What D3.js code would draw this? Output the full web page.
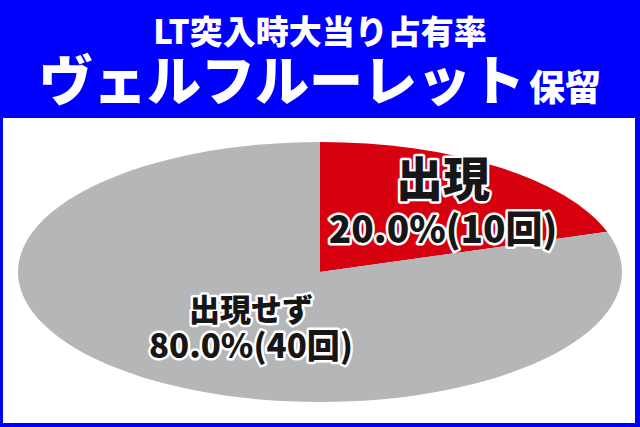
<!DOCTYPE html>
<html><head><meta charset="utf-8">
<script src="https://cdn.jsdelivr.net/npm/d3@7"></script>
<style>
html,body{margin:0;padding:0;background:#fff;}
svg{display:block;font-family:"Noto Sans CJK JP","Noto Sans",sans-serif;}
</style></head>
<body>
<svg id="c" width="640" height="427"></svg>
<script>
const titleLine1 = "LT突入時大当り占有率";
const titleMain = "ヴェルフルーレット";
const titleSuffix = "保留";
const categories = ["出現", "出現せず"];
const counts = [10, 40];
const sliceColors = ["#d7000f", "#b5b6b8"];

const svg = d3.select("#c");
const W = 640, H = 427;
svg.append("rect").attr("width", W).attr("height", H).attr("fill", "#0000ff");
svg.append("rect").attr("x", 3).attr("y", 118).attr("width", 632).attr("height", 305).attr("fill", "#fff");

// Title
svg.append("text").attr("x", 320).attr("y", 44).attr("text-anchor", "middle")
  .attr("fill", "#fff").attr("font-size", 33).attr("font-weight", 900).text(titleLine1);
const t2 = svg.append("text").attr("x", 320).attr("y", 101).attr("text-anchor", "middle")
  .attr("fill", "#fff").attr("font-weight", 900);
t2.append("tspan").attr("font-size", 54).text(titleMain);
t2.append("tspan").attr("font-size", 36).attr("dx", 4).text(titleSuffix);

// Pie (ellipse)
const cx = 320, cy = 272, rx = 302, ry = 130;
const total = d3.sum(counts);
const pie = d3.pie().sort(null).value(d => d)(counts);
const arc = d3.arc().innerRadius(0).outerRadius(1);
svg.append("g").attr("transform", `translate(${cx},${cy}) scale(${rx},${ry})`)
  .selectAll("path").data(pie).join("path")
  .attr("d", arc).attr("fill", (d, i) => sliceColors[i]);

function pct(v) { return (v / total * 100).toFixed(1) + "%"; }

const labels = [
  {name: categories[0], x: 443, y1: 196, s1: 47, y2: 243, s2: 37, val: counts[0]},
  {name: categories[1], x: 251, y1: 321, s1: 31, y2: 358, s2: 33, val: counts[1]}
];
labels.forEach(l => {
  [[l.name, l.y1, l.s1], [pct(l.val) + "(" + l.val + "回)", l.y2, l.s2]].forEach(([txt, y, s]) => {
    svg.append("text").attr("x", l.x).attr("y", y).attr("text-anchor", "middle")
      .attr("font-size", s).attr("font-weight", 900)
      .attr("fill", "#161616").attr("stroke", "#fff").attr("stroke-width", 5)
      .attr("stroke-linejoin", "round").attr("paint-order", "stroke")
      .text(txt);
  });
});
</script>
</body></html>
